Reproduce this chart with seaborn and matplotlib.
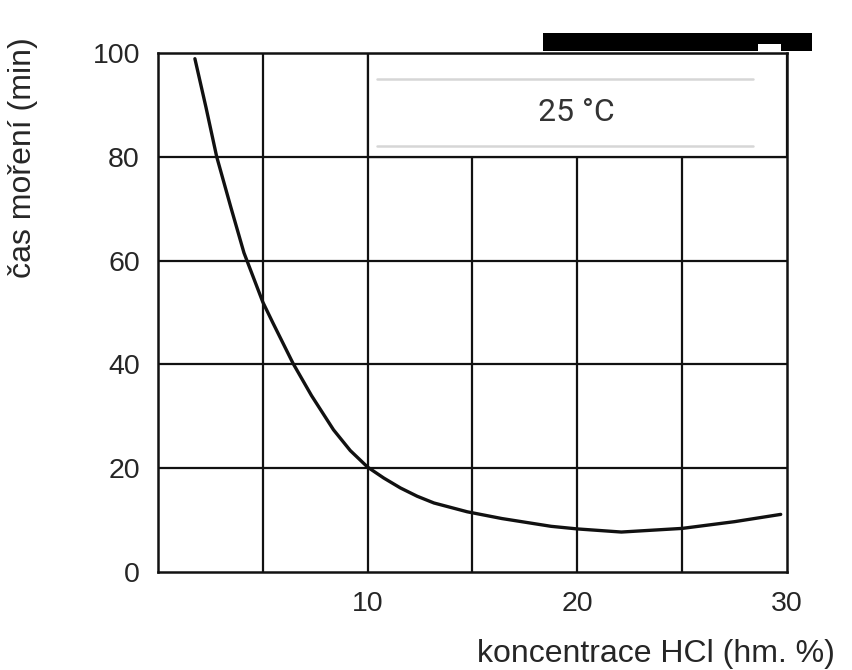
import matplotlib
matplotlib.use("Agg")
import matplotlib.pyplot as plt
from matplotlib.patches import Rectangle
import pandas as pd
import seaborn as sns

# values
koncentrace = [1.76, 2.29, 2.80, 3.48, 4.10, 5.00, 5.48, 6.44, 7.32, 8.37, 9.17, 10.0,
               10.77, 11.56, 12.36, 13.16, 14.75, 16.4, 18.75, 20.0, 22.1, 25.0,
               27.5, 29.7]
cas_moreni = [98.9, 89.5, 80.0, 70.2, 61.5, 52.0, 48.0, 40.2, 34.0, 27.4, 23.4, 20.2,
              18.1, 16.2, 14.6, 13.3, 11.6, 10.3, 8.8, 8.3, 7.7, 8.4, 9.7, 11.1]

x_ticks = [10, 20, 30]
y_ticks = [0, 20, 40, 60, 80, 100]
x_grid = [5, 10, 15, 20, 25]
y_grid = [20, 40, 60, 80]
legend_text = "25 °C"
x_label = "koncentrace HCl (hm. %)"
y_label = "čas moření (min)"

sns.set_style("white")
plt.rcParams["font.family"] = ["Liberation Sans", "DejaVu Sans"]

df = pd.DataFrame({"x": koncentrace, "y": cas_moreni})

fig = plt.figure(figsize=(8.53, 6.70), dpi=100)
ax = fig.add_axes([158 / 853, 1 - 572 / 670, 629 / 853, 519 / 670])

ink = "#111111"
for gx in x_grid:
    ax.axvline(gx, color=ink, lw=1.6, zorder=1)
for gy in y_grid:
    ax.axhline(gy, color=ink, lw=1.6, zorder=1)

# white legend panel covering the upper right grid cells
ax.add_patch(Rectangle((10, 80), 20, 20, facecolor="white", edgecolor=ink,
                       lw=1.6, zorder=2))
ax.plot([10.45, 28.4], [95, 95], color="#d6d6d6", lw=1.8, zorder=3)
ax.plot([10.45, 28.4], [82.1, 82.1], color="#d6d6d6", lw=1.8, zorder=3)
ax.text(19.95, 88.6, legend_text, ha="center", va="center", fontsize=23,
        color="#333333", family=["Roboto", "DejaVu Sans"], zorder=4)

sns.lineplot(data=df, x="x", y="y", ax=ax, color=ink, lw=2.4, zorder=5)

ax.set_xlim(0, 30)
ax.set_ylim(0, 100)
ax.set_xticks(x_ticks)
ax.set_yticks(y_ticks)
ax.tick_params(axis="both", length=0, labelsize=20.5, labelcolor="#262626")
ax.tick_params(axis="x", pad=14)
ax.tick_params(axis="y", pad=13)
for s in ax.spines.values():
    s.set_color(ink)
    s.set_linewidth(1.8)
    s.set_zorder(6)

ax.set_xlabel(x_label, fontsize=23, color="#262626", loc="right")
ax.xaxis.set_label_coords(1.076, -0.13)
ax.set_ylabel(y_label, fontsize=23, color="#262626", loc="top")
ax.yaxis.set_label_coords(-0.19, 1.03)

# black bar above the frame, with a small white notch
fig.patches.append(Rectangle((543, 670 - 51), 269, 18, transform=None,
                             facecolor="black", edgecolor="none", figure=fig))
fig.patches.append(Rectangle((758, 670 - 51), 23, 7, transform=None,
                             facecolor="white", edgecolor="none", figure=fig))

fig.savefig("out.png", dpi=100, facecolor="white")
